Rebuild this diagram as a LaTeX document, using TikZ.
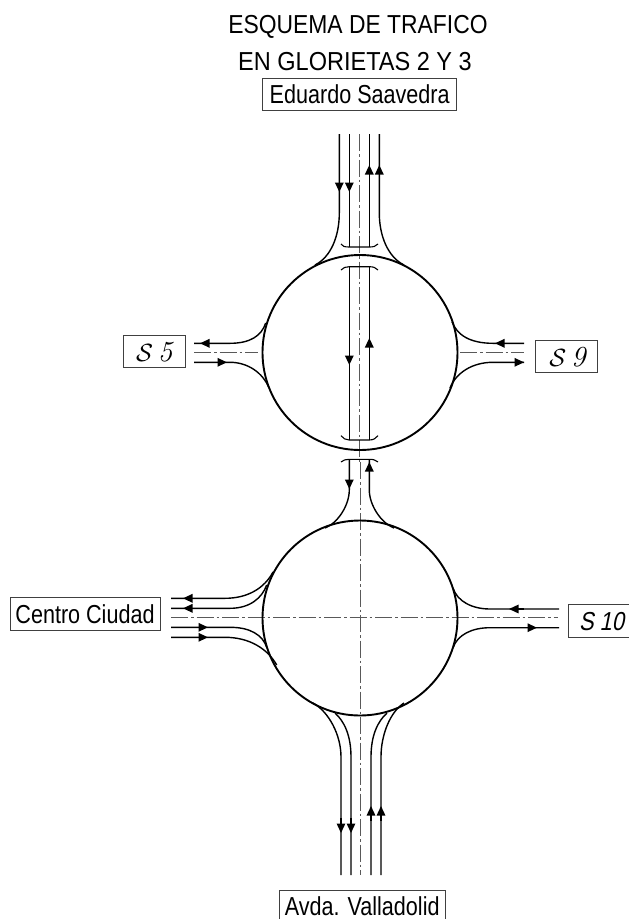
\documentclass[tikz,border=0pt]{standalone}
\usepackage{fontspec}
\usetikzlibrary{arrows.meta}
\newfontfamily\arialn[FakeStretch=0.83]{Liberation Sans}
\newfontfamily\arialta[FakeStretch=0.88]{Liberation Sans}
\newfontfamily\arialtb[FakeStretch=0.905]{Liberation Sans}
\newfontfamily\arialni[FakeStretch=0.84,FakeSlant=0.2]{Liberation Sans}
\tikzset{
  road/.style={line width=1.4pt,black},
  ring/.style={line width=1.9pt,black},
  brk/.style={line width=1.1pt,black},
  axis/.style={line width=0.75pt,black!65,dash pattern=on 17pt off 3pt on 2.5pt off 3pt},
  flow/.style={line width=1.4pt,black,-{Triangle[length=9.5pt,width=8.5pt]}},
  titletext/.style={inner sep=0pt,text height=19pt,text depth=0pt},
  boxline/.style={draw=black!75,line width=0.8pt},
  signtext/.style={inner sep=0pt,text height=19pt,text depth=0pt,font=\arialn\fontsize{26}{26}\selectfont},
  signbox/.style={signtext,boxline},
  scripttext/.style={font=\normalfont\fontsize{29}{29}\selectfont},
}
\begin{document}
\begin{tikzpicture}[x=1pt,y=-1pt]
\useasboundingbox (0,0) rectangle (629,919);
\clip (0,0) rectangle (629,919);
\fill[white] (0,0) rectangle (629,919);
% axes
\draw[axis] (359.5,134) -- (359.5,462);
\draw[axis] (360,462) -- (360,875);
\draw[axis] (194,352.7) -- (258,352.7);
\draw[axis] (460,352.7) -- (524,352.7);
\draw[axis] (171,617.7) -- (558,617.7);
% roundabouts
\node[ring,draw,circle,minimum size=195pt,inner sep=0pt] (g2) at (360,352.5) {};
\node[ring,draw,circle,minimum size=195pt,inner sep=0pt] (g3) at (360,618) {};
% top road
\draw[road] (339.3,134) -- (339.3,213) .. controls (339.3,236) and (331,257) .. (315,265);
\draw[road] (379.3,134) -- (379.3,213) .. controls (379.3,236) and (388,257) .. (404,265);
\draw[road] (349.3,134) -- (349.3,247);
\draw[road] (369.3,134) -- (369.3,247);
\draw[flow] (339.3,175) -- (339.3,192);
\draw[flow] (349.3,175) -- (349.3,192);
\draw[flow] (369.3,180) -- (369.3,165);
\draw[flow] (379.3,180) -- (379.3,165);
% link between the roundabouts
\draw[brk] (341,244) .. controls (342,246.5) and (345,247) .. (349.3,247) -- (369.3,247) .. controls (373,247) and (376,246.5) .. (378,244);
\draw[brk] (341,270) .. controls (343,267.5) and (346,266.7) .. (349.3,266.7) -- (369.3,266.7) .. controls (373,266.7) and (376,267.5) .. (378,270);
\draw[road] (349.3,266.7) -- (349.3,440);
\draw[road] (369.3,266.7) -- (369.3,440);
\draw[flow] (349.3,350) -- (349.3,365);
\draw[flow] (369.3,353) -- (369.3,338);
\draw[brk] (341,435.7) .. controls (343,438.5) and (346,440) .. (349.3,440) -- (369.3,440) .. controls (373,440) and (376,438.5) .. (378,435.7);
\draw[brk] (341,462) .. controls (343,460) and (346,459.3) .. (349.3,459.3) -- (369.3,459.3) .. controls (373,459.3) and (376,460) .. (378,462);
\draw[road] (349.3,459.3) -- (349.3,490) .. controls (349.3,505) and (338,523) .. (325,528);
\draw[road] (369.3,459.3) -- (369.3,490) .. controls (369.3,505) and (381,523) .. (394,528);
\draw[flow] (349.3,475) -- (349.3,489);
\draw[flow] (369.3,476) -- (369.3,462);
% S5 side
\draw[road] (194,343.3) -- (230,343.3) .. controls (250,343.3) and (261.5,336) .. (265.7,323);
\draw[road] (194,362.3) -- (230,362.3) .. controls (248,362.3) and (263,373) .. (269,388);
\draw[flow] (215,343.3) -- (200,343.3);
\draw[flow] (212,362.3) -- (227,362.3);
% S9 side
\draw[road] (524,343.3) -- (493,343.3) .. controls (470,343.3) and (457,335) .. (452,321.7);
\draw[road] (524,362.3) -- (493,362.3) .. controls (472,362.3) and (456,373) .. (450,388);
\draw[flow] (510,343.3) -- (495,343.3);
\draw[flow] (509,362.3) -- (524,362.3);
% Centro Ciudad side
\draw[road] (171,598.3) -- (225,598.3) .. controls (248,598.3) and (264.5,588) .. (273,572);
\draw[road] (171,608.3) -- (230,608.3) .. controls (250,608.3) and (262,598) .. (266.7,585);
\draw[road] (171,627.3) -- (230,627.3) .. controls (250,627.3) and (262.7,634.7) .. (267,648);
\draw[road] (171,637.3) -- (225,637.3) .. controls (250,637.3) and (267.9,649.3) .. (276.7,665);
\draw[flow] (197,598.3) -- (183,598.3);
\draw[flow] (197,608.3) -- (183,608.3);
\draw[flow] (194,627.3) -- (208,627.3);
\draw[flow] (194,637.3) -- (208,637.3);
% S10 side
\draw[road] (559,609) -- (490,609) .. controls (472,609) and (457.3,601.3) .. (453,588);
\draw[road] (559,627.7) -- (490,627.7) .. controls (472,627.7) and (457.3,634.7) .. (453,648);
\draw[flow] (524,609) -- (509,609);
\draw[flow] (522,627.7) -- (537,627.7);
% bottom road
\draw[road] (341,875) -- (341,757) .. controls (341,735) and (329,712) .. (313,703);
\draw[road] (351,875) -- (351,757) .. controls (351,735) and (344,721) .. (335,713);
\draw[road] (371,875) -- (371,757) .. controls (371,735) and (378,721) .. (387,713);
\draw[road] (381,875) -- (381,757) .. controls (381,735) and (390,712) .. (404,703);
\draw[flow] (341,818) -- (341,833);
\draw[flow] (351,818) -- (351,833);
\draw[flow] (371,821) -- (371,806);
\draw[flow] (381,821) -- (381,806);
% boxes cut by the page edge
\draw[boxline] (279.3,930) -- (279.3,890) -- (445,890) -- (445,930);
\draw[boxline] (640,604) -- (568,604) -- (568,637) -- (640,637);
% texts
\node[titletext,font=\arialta\fontsize{26}{26}\selectfont] (t1) at (358,23.5) {ESQUEMA DE TRAFICO};
\node[titletext,font=\arialtb\fontsize{26}{26}\selectfont] (t2) at (355,61) {EN GLORIETAS 2 Y 3};
\node[signbox,minimum width=194pt,minimum height=32.6pt] (eduardo) at (359.7,94.3) {Eduardo Saavedra};
\node[signbox,minimum width=150pt,minimum height=32.3pt] (centro) at (85,613.8) {Centro Ciudad};
\node[signtext] (avda) at (362.2,905.5) {Avda. Valladolid};
\node[boxline,minimum width=62.4pt,minimum height=32pt,inner sep=0pt] (s5) at (154.5,351) {};
\node[scripttext,inner sep=0pt] (s5t) at (155,352) {$\mathcal{S}$\,\textit{5}};
\node[boxline,minimum width=61.6pt,minimum height=32pt,inner sep=0pt] (s9) at (566.5,356.7) {};
\node[scripttext,inner sep=0pt] (s9t) at (568,357) {$\mathcal{S}$\,\textit{9}};
\node[signtext,font=\arialni\fontsize{26}{26}\selectfont] (s10) at (601.5,620.5) {S 10};
\end{tikzpicture}
\end{document}
